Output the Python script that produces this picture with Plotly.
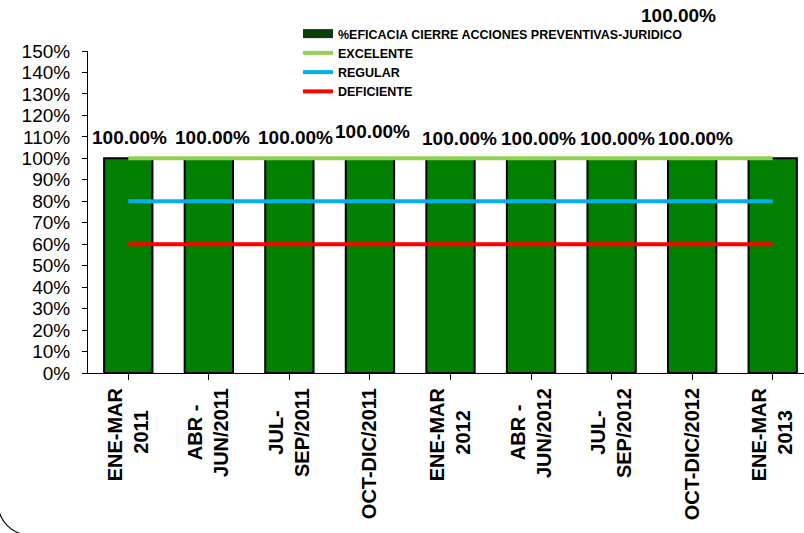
import plotly.graph_objects as go

categories = [["ENE-MAR", "2011"], ["ABR -", "JUN/2011"], ["JUL-", "SEP/2011"], ["OCT-DIC/2011"],
              ["ENE-MAR", "2012"], ["ABR -", "JUN/2012"], ["JUL-", "SEP/2012"], ["OCT-DIC/2012"],
              ["ENE-MAR", "2013"]]
eficacia = [1.0, 1.0, 1.0, 1.0, 1.0, 1.0, 1.0, 1.0, 1.0]
excelente = [1.0] * 9
regular = [0.8] * 9
deficiente = [0.6] * 9
y_ticks = [i / 10 for i in range(0, 16)]

# label offsets in pixels (dx, dy) - styling of the manually moved Excel labels
label_offsets = [(1, 21), (4, 21), (6, 21), (3, 27), (9, 20), (7, 20), (6, 20), (3, 20), (-94, 143)]

FONT = "Arial, 'Liberation Sans', sans-serif"
xs = list(range(len(categories)))

# approximate Arial Bold advance widths (em) to centre multi-line tick labels
_w = {"E": .667, "N": .722, "M": .833, "A": .722, "R": .722, "B": .722, "J": .556, "U": .722,
      "L": .611, "S": .667, "P": .667, "O": .778, "C": .722, "T": .611, "D": .722, "I": .278,
      "-": .333, "/": .278, " ": .278}
def tw(s):
    return sum(_w.get(c, .556) for c in s)

def centred(lines):
    if len(lines) == 1:
        return lines[0]
    m = max(tw(s) for s in lines)
    out = []
    for s in lines:
        n = int(round((m - tw(s)) / 2 / 0.278))
        out.append(s + "\u00a0" * n)
    return "<br>".join(out)

ticktext = [centred(c) for c in categories]

fig = go.Figure()
fig.add_trace(go.Bar(x=xs, y=eficacia, name="%EFICACIA CIERRE ACCIONES PREVENTIVAS-JURIDICO",
                     marker=dict(color="#007F00", line=dict(color="black", width=2)),
                     width=0.6, showlegend=False))
# legend entry drawn as a wide dark-green band like the Excel key
fig.add_trace(go.Scatter(x=[None], y=[None], name="%EFICACIA CIERRE ACCIONES PREVENTIVAS-JURIDICO",
                         mode="lines", line=dict(color="#0A3D0A", width=9)))
fig.add_trace(go.Scatter(x=xs, y=excelente, name="EXCELENTE", mode="lines",
                         line=dict(color="#92D050", width=4)))
fig.add_trace(go.Scatter(x=xs, y=regular, name="REGULAR", mode="lines",
                         line=dict(color="#00B0F0", width=4)))
fig.add_trace(go.Scatter(x=xs, y=deficiente, name="DEFICIENTE", mode="lines",
                         line=dict(color="#FF0000", width=4)))

for i, v in enumerate(eficacia):
    dx, dy = label_offsets[i]
    fig.add_annotation(x=xs[i], y=v, text=f"<b>{v*100:.2f}%</b>", showarrow=False,
                       xshift=dx, yshift=dy, yanchor="middle", xanchor="center",
                       font=dict(family=FONT, size=19, color="black"))

L, R, T, B = 88, 804, 51, 373
W, H = 804, 533
def px(x):
    return (x - L) / (R - L)
def py(y):
    return (B - y) / (B - T)

# chart-area rounded border (only the bottom-left corner falls inside the picture)
bl, bb, r = -2, 535, 32
k = 0.5523 * r
path = (f"M {px(bl)},{py(bb - r - 60)} L {px(bl)},{py(bb - r)} "
        f"C {px(bl)},{py(bb - r + k)} {px(bl + r - k)},{py(bb)} {px(bl + r)},{py(bb)} "
        f"L {px(W + 50)},{py(bb)}")
fig.add_shape(type="path", path=path, xref="paper", yref="paper",
              line=dict(color="black", width=1.2))

fig.update_layout(
    width=W, height=H,
    margin=dict(l=L, r=W - R, t=T, b=H - B, autoexpand=False),
    paper_bgcolor="white", plot_bgcolor="white",
    font=dict(family=FONT, color="black"),
    showlegend=True,
    legend=dict(x=px(298), y=py(19), xanchor="left", yanchor="top",
                font=dict(family=FONT, size=12.5, color="black", weight="bold"),
                bgcolor="rgba(0,0,0,0)", tracegroupgap=0),
    xaxis=dict(range=[-0.5, 8.5 - 9 / 80.6], tickmode="array", tickvals=xs, ticktext=ticktext,
               tickangle=-90, tickson="boundaries", ticks="outside", ticklen=6,
               tickcolor="black", showline=True, linecolor="black", linewidth=1,
               showgrid=False, zeroline=False, automargin=False,
               tickfont=dict(family=FONT, size=20, color="black", weight="bold")),
    yaxis=dict(range=[0, 1.5], tickmode="array", tickvals=y_ticks, tickformat=".0%",
               ticks="outside", ticklen=5, tickcolor="black", showline=True,
               linecolor="black", linewidth=1, showgrid=False, zeroline=False, automargin=False,
               ticklabelstandoff=8,
               tickfont=dict(family=FONT, size=19, color="black")),
)

fig.write_html("out.html", config={"displayModeBar": False},
               post_script="document.body.style.margin='0';document.body.style.overflow='hidden';")
